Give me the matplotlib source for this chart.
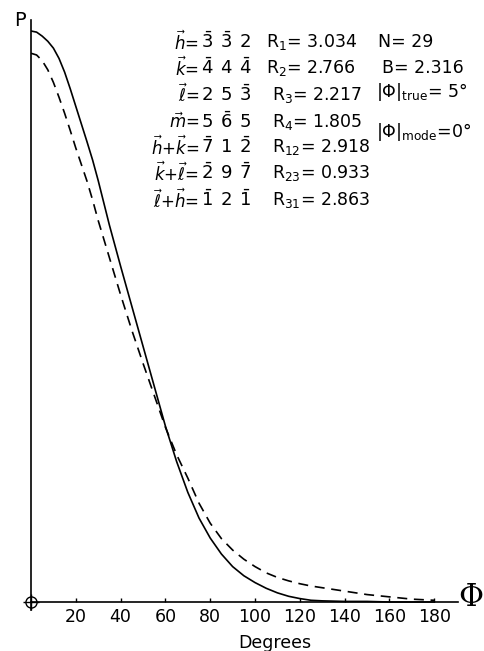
import matplotlib
matplotlib.use("Agg")
import matplotlib.pyplot as plt

plt.rcParams['font.family'] = ['DejaVu Sans']
plt.rcParams['mathtext.fontset'] = 'dejavusans'

# curve data (P in arbitrary units, solid peak = 1)
degrees = [0, 2.5, 5, 7.5, 10, 12.5, 15, 17.5, 20, 22.5, 25, 27.5, 30, 35,
           40, 45, 50, 55, 60, 65, 70, 75, 80, 85, 90, 95, 100, 105, 110,
           115, 120, 125, 130, 140, 150, 160, 170, 180]
p_solid = [1.000, 0.998, 0.991, 0.982, 0.970, 0.952, 0.928, 0.899, 0.868,
           0.837, 0.806, 0.774, 0.738, 0.660, 0.588, 0.518, 0.448, 0.378,
           0.308, 0.246, 0.192, 0.147, 0.112, 0.084, 0.062, 0.046, 0.034,
           0.024, 0.016, 0.010, 0.006, 0.003, 0.002, 0.001, 0.001, 0.000,
           0.000, 0.000]
p_dashed = [0.961, 0.958, 0.948, 0.932, 0.910, 0.884, 0.856, 0.826, 0.795,
            0.766, 0.737, 0.704, 0.668, 0.603, 0.538, 0.476, 0.418, 0.362,
            0.306, 0.258, 0.217, 0.173, 0.138, 0.111, 0.091, 0.075, 0.062,
            0.051, 0.043, 0.037, 0.032, 0.028, 0.025, 0.019, 0.013, 0.009,
            0.005, 0.003]
xticks = [20, 40, 60, 80, 100, 120, 140, 160, 180]

# reflection vectors and R values
vec_names = [r'$\vec{h}$', r'$\vec{k}$', r'$\vec{\ell}$', r'$\vec{m}$',
             r'$\vec{h}$+$\vec{k}$', r'$\vec{k}$+$\vec{\ell}$', r'$\vec{\ell}$+$\vec{h}$']
vec_comps = [[-3, -3, 2], [-4, 4, -4], [2, 5, -3], [5, -6, 5],
             [-7, 1, -2], [-2, 9, -7], [-1, 2, -1]]
r_names = ['1', '2', '3', '4', '12', '23', '31']
r_values = [3.034, 2.766, 2.217, 1.805, 2.918, 0.933, 2.863]
extra_text = ['N= 29', 'B= 2.316', r'$|\Phi|_{\rm true}$= 5°', r'$|\Phi|_{\rm mode}$=0°']

W, H = 485, 651
fig = plt.figure(figsize=(W / 100, H / 100), dpi=100)
ax = fig.add_axes([31 / W, (H - 610) / H, 427 / W, 590 / H])

ax.plot(degrees, p_solid, color='black', lw=1.2)
ax.plot(degrees, p_dashed, color='black', lw=1.2, dashes=(6, 4))

ax.set_xlim(0, 190.6)
ax.set_ylim(-8 / 571, 582 / 571)
for s in ['top', 'right']:
    ax.spines[s].set_visible(False)
ax.spines['bottom'].set_position(('data', 0))
ax.spines['left'].set_linewidth(1.2)
ax.spines['bottom'].set_linewidth(1.2)
ax.set_yticks([])
ax.set_xticks(xticks)
ax.tick_params(axis='x', direction='in', length=3, width=1, pad=4, labelsize=12.5)

# origin symbol
ax.plot(0, 0, marker='o', mfc='none', mec='black', ms=8, mew=1, clip_on=False)
ax.plot(0, 0, marker='+', color='black', ms=11, mew=1, clip_on=False)

def px(x, y):
    return x / W, 1 - y / H

fig.text(*px(20, 21), 'P', fontsize=14, ha='center', va='center')
fig.text(*px(471, 597), 'Φ', fontsize=22, family='DejaVu Serif', ha='center', va='center')
fig.text(*px(275, 643), 'Degrees', fontsize=12.5, ha='center', va='center')

row_y = [42, 68, 95, 122, 147, 173, 200]
for i in range(len(vec_names)):
    y = row_y[i]
    fig.text(*px(199, y), vec_names[i] + '=', fontsize=12, ha='right', va='center')
    for c, cx in zip(vec_comps[i], [207, 226, 245]):
        lab = r'$\bar{%d}$' % abs(c) if c < 0 else r'$%d$' % c
        fig.text(*px(cx, y), lab, fontsize=13, ha='center', va='center')
    fig.text(*px(266 if i < 2 else 272, y), 'R$_{%s}$= %.3f' % (r_names[i], r_values[i]),
             fontsize=12.5, ha='left', va='center')

extra_xy = [(378, 42), (382, 68), (376, 92), (376, 132)]
for t, (x, y) in zip(extra_text, extra_xy):
    fig.text(*px(x, y), t, fontsize=12.5, ha='left', va='center')

fig.savefig('out.png', dpi=100)
